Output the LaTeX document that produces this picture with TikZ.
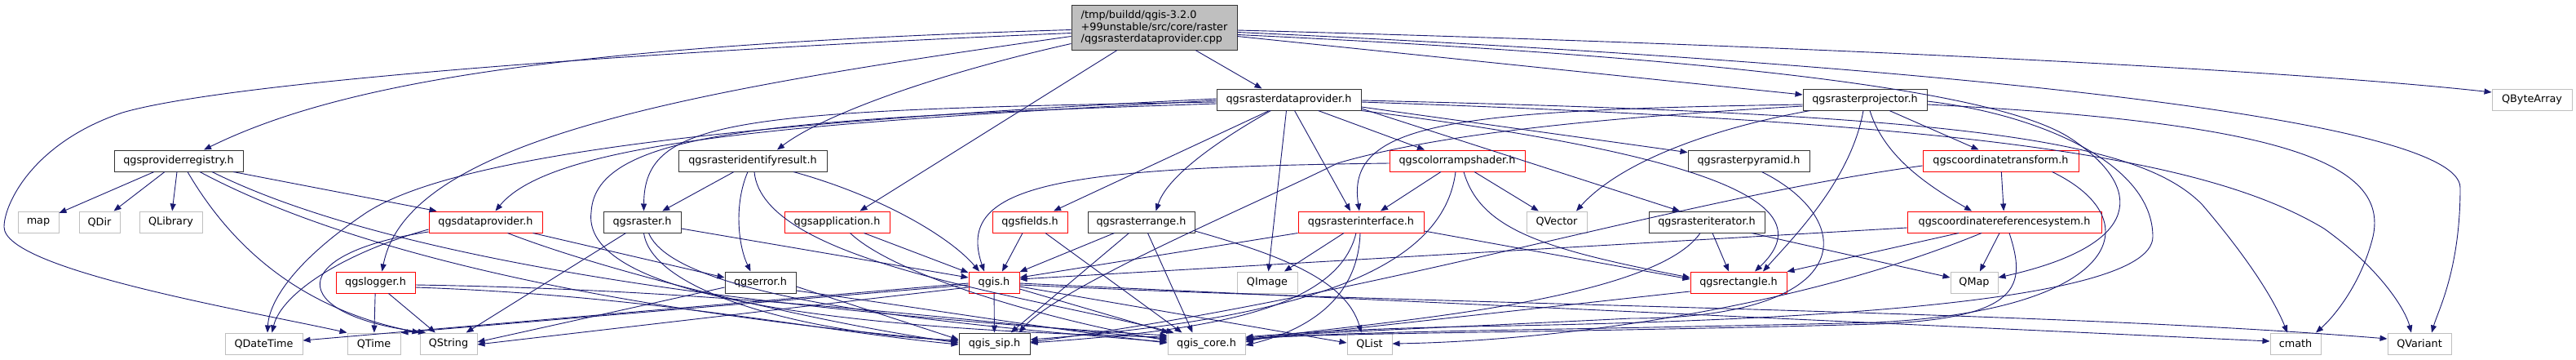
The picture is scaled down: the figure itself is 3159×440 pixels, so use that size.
\documentclass[tikz,border=0pt]{standalone}
\usepackage{fontspec}
\setmainfont{DejaVu Sans}
\usetikzlibrary{arrows.meta}
\definecolor{edgec}{HTML}{191970}
\definecolor{lgray}{HTML}{BFBFBF}
\definecolor{mainfill}{HTML}{BFBFBF}
\tikzset{
  box/.style={draw, line width=1pt, minimum height=26pt, inner sep=0pt, fill=white, text=black,
    font=\fontsize{12.8}{14.5}\selectfont},
  blk/.style={box, draw=black!80},
  redb/.style={box, draw=red},
  gryb/.style={box, draw=lgray},
  edg/.style={draw=edgec, line width=0.9pt, -{Triangle[length=9pt,width=7pt]}},
}
\begin{document}
\begin{tikzpicture}[x=1pt,y=-1pt]
\fill[white] (0,0) rectangle (3159,440);
\useasboundingbox (0,0) rectangle (3159,440);
% row 0
\node[blk, minimum width=203pt, minimum height=55pt, fill=mainfill, align=left] (main) at (1415.5,33.5)
  {/tmp/buildd/qgis-3.2.0\\+99unstable/src/core/raster\\/qgsrasterdataprovider.cpp};
% row 1
\node[blk, minimum width=177pt] (rdp) at (1580.5,122) {qgsrasterdataprovider.h};
\node[blk, minimum width=152pt] (rproj) at (2287,122) {qgsrasterprojector.h};
\node[gryb, minimum width=98pt] (QByteArray) at (3105,122) {QByteArray};
% row 2
\node[blk, minimum width=158pt] (preg) at (219,197) {qgsproviderregistry.h};
\node[blk, minimum width=182pt] (rident) at (923,197) {qgsrasteridentifyresult.h};
\node[redb, minimum width=166pt] (crshader) at (1787,197) {qgscolorrampshader.h};
\node[blk, minimum width=149pt] (rpyramid) at (2144.5,197) {qgsrasterpyramid.h};
\node[redb, minimum width=191pt] (ct) at (2453.5,197) {qgscoordinatetransform.h};
% row 3
\node[gryb, minimum width=50pt] (map) at (47,272) {map};
\node[gryb, minimum width=50pt] (QDir) at (122,272) {QDir};
\node[gryb, minimum width=77pt] (QLibrary) at (209.5,272) {QLibrary};
\node[redb, minimum width=139pt] (dprov) at (595.5,272) {qgsdataprovider.h};
\node[blk, minimum width=95pt] (raster) at (787.5,272) {qgsraster.h};
\node[redb, minimum width=129pt] (app) at (1026.5,272) {qgsapplication.h};
\node[redb, minimum width=92pt] (fields) at (1263,272) {qgsfields.h};
\node[blk, minimum width=131pt] (rrange) at (1399.5,272) {qgsrasterrange.h};
\node[redb, minimum width=154pt] (rinterface) at (1669,272) {qgsrasterinterface.h};
\node[gryb, minimum width=74pt] (QVector) at (1909,272) {QVector};
\node[blk, minimum width=142pt] (riter) at (2093,272) {qgsrasteriterator.h};
\node[redb, minimum width=238pt] (crs) at (2458,272) {qgscoordinatereferencesystem.h};
% row 4
\node[redb, minimum width=97pt] (logger) at (460.5,346) {qgslogger.h};
\node[blk, minimum width=87pt] (error) at (932.5,346) {qgserror.h};
\node[redb, minimum width=62pt] (qgis) at (1219,346) {qgis.h};
\node[gryb, minimum width=74pt] (QImage) at (1554,346) {QImage};
\node[redb, minimum width=118pt] (rect) at (2132,346) {qgsrectangle.h};
\node[gryb, minimum width=58pt] (QMap) at (2421,346) {QMap};
% row 5
\node[gryb, minimum width=95pt] (QDateTime) at (323.5,421) {QDateTime};
\node[gryb, minimum width=65pt] (QTime) at (458.5,421) {QTime};
\node[gryb, minimum width=70pt] (QString) at (550,421) {QString};
\node[blk, minimum width=87pt] (sip) at (1219.5,421) {qgis\_sip.h};
\node[gryb, minimum width=95pt] (core) at (1479.5,421) {qgis\_core.h};
\node[gryb, minimum width=55pt] (QList) at (1679.5,421) {QList};
\node[gryb, minimum width=62pt] (cmath) at (2815,421) {cmath};
\node[gryb, minimum width=78pt] (QVariant) at (2967,421) {QVariant};

% ---- main
\draw[edg] ([yshift=-3pt]main.west) .. controls (700,55) and (420,100) .. ([xshift=31pt]preg.north);
\draw[edg] ([yshift=-7pt]main.west) .. controls (800,62) and (280,100) .. (150,138) .. controls (40,175) and (5,250) .. (5,278) .. controls (5,330) and (300,380) .. (QTime.north west);
\draw[edg] ([yshift=-11pt]main.west) .. controls (850,110) and (500,170) .. ([xshift=8pt]logger.north);
\draw[edg] ([yshift=-20pt]main.west) .. controls (1150,90) and (1010,140) .. ([xshift=30pt]rident.north);
\draw[edg] ([xshift=-45.5pt]main.south) -- ([xshift=28pt]app.north);
\draw[edg] ([xshift=50.5pt]main.south) -- ([xshift=-33pt]rdp.north);
\draw[edg] ([yshift=-11pt]main.east) -- ([yshift=6pt]rproj.west);
\draw[edg] ([yshift=-3.5pt]main.east) .. controls (2200,55) and (2800,85) .. ([yshift=9pt]QByteArray.west);
\draw[edg] ([yshift=-6pt]main.east) .. controls (2300,75) and (3017,140) .. (3017,230) .. controls (3017,330) and (2990,380) .. ([xshift=15pt]QVariant.north);
\draw[edg] ([yshift=-9pt]main.east) .. controls (2100,70) and (2450,110) .. (2540,170) .. controls (2630,230) and (2630,300) .. ([yshift=6pt]QMap.east);
% ---- qgsproviderregistry.h
\draw[edg] ([xshift=-30pt]preg.south) -- (map);
\draw[edg] ([xshift=-17pt]preg.south) -- (QDir);
\draw[edg] ([xshift=-2pt]preg.south) -- (QLibrary);
\draw[edg] ([xshift=11pt]preg.south) .. controls (300,330) and (400,385) .. (QString.north west);
\draw[edg] ([xshift=26pt]preg.south) .. controls (450,320) and (800,385) .. ([yshift=3pt]sip.west);
\draw[edg] ([xshift=41pt]preg.south) .. controls (500,330) and (1000,385) .. ([yshift=10pt]core.west);
\draw[edg] ([xshift=67pt]preg.south) -- ([xshift=-60pt]dprov.north);
% ---- qgsdataprovider.h
\draw[edg] ([yshift=-9pt]dprov.west) .. controls (420,310) and (345,360) .. ([xshift=10pt]QDateTime.north);
\draw[edg] ([yshift=-12pt]dprov.west) .. controls (350,310) and (350,385) .. ([xshift=-28pt]QString.north);
\draw[edg] ([xshift=58pt]dprov.south) -- ([yshift=6pt]error.west);
\draw[edg] ([xshift=27pt]dprov.south) .. controls (750,335) and (1000,395) .. ([yshift=1pt]sip.west);
% ---- qgslogger.h
\draw[edg] (logger) -- (QTime);
\draw[edg] ([xshift=16pt]logger.south) -- (QString);
\draw[edg] ([yshift=-6pt]logger.east) .. controls (800,362) and (1000,405) .. ([yshift=-1pt]sip.west);
\draw[edg] ([yshift=-3pt]logger.east) .. controls (900,355) and (1200,395) .. ([yshift=6pt]core.west);
% ---- qgsrasteridentifyresult.h
\draw[edg] ([xshift=-23pt]rident.south) -- (raster);
\draw[edg] ([xshift=-6pt]rident.south) .. controls (900,250) and (905,300) .. ([xshift=-12pt]error.north);
\draw[edg] ([xshift=50pt]rident.south) .. controls (1080,240) and (1165,290) .. ([xshift=-18pt]qgis.north);
\draw[edg] ([xshift=2pt]rident.south) .. controls (935,320) and (1250,360) .. ([xshift=-40pt]core.north);
% ---- qgsraster.h
\draw[edg] ([xshift=-20pt]raster.south) -- (QString);
\draw[edg] ([yshift=-8pt]raster.east) -- ([yshift=6pt]qgis.west);
\draw[edg] ([xshift=2pt]raster.south) .. controls (800,360) and (1000,410) .. ([yshift=4pt]sip.west);
\draw[edg] ([xshift=8pt]raster.south) .. controls (830,370) and (1200,400) .. ([yshift=2pt]core.west);
% ---- qgsapplication.h
\draw[edg] ([xshift=33pt]app.south) -- (qgis);
\draw[edg] ([xshift=16pt]app.south) .. controls (1100,340) and (1300,395) .. ([yshift=4pt]core.west);
% ---- qgserror.h
\draw[edg] ([yshift=-6pt]error.west) -- ([yshift=2pt]QString.east);
\draw[edg] ([yshift=-5pt]error.east) -- ([yshift=5pt]sip.west);
\draw[edg] ([yshift=-10pt]error.east) .. controls (1150,380) and (1300,405) .. ([yshift=1pt]core.west);
% ---- qgis.h
\draw[edg] (qgis) -- (sip);
\draw[edg] ([yshift=-8pt]qgis.east) -- (core);
\draw[edg] ([yshift=-1pt]qgis.west) -- ([yshift=4pt]QDateTime.east);
\draw[edg] ([yshift=-3pt]qgis.west) -- (QTime.north east);
\draw[edg] ([yshift=-6pt]qgis.west) -- ([yshift=-1pt]QString.east);
\draw[edg] ([yshift=-1pt]qgis.east) -- ([yshift=3pt]cmath.west);
\draw[edg] ([yshift=-3pt]qgis.east) .. controls (1800,375) and (2500,380) .. ([yshift=6pt]QVariant.west);
\draw[edg] ([yshift=-5pt]qgis.east) -- ([yshift=1pt]QList.west);
% ---- qgsrasterdataprovider.h
\draw[edg] ([yshift=1pt]rdp.west) .. controls (900,150) and (560,190) .. (450,260) .. controls (360,320) and (330,370) .. ([xshift=4.5pt]QDateTime.north);
\draw[edg] ([yshift=-1pt]rdp.west) .. controls (1000,150) and (680,170) .. ([xshift=12pt]dprov.north);
\draw[edg] ([yshift=-3pt]rdp.west) .. controls (900,135) and (790,145) .. ([xshift=2pt]raster.north);
\draw[edg] ([yshift=-5pt]rdp.west) .. controls (950,145) and (730,160) .. (725,260) .. controls (715,340) and (900,400) .. ([yshift=8pt]core.west);
\draw[edg] ([xshift=-24pt]rdp.south) -- (fields);
\draw[edg] ([xshift=-22pt]rdp.south) .. controls (1480,180) and (1430,220) .. ([xshift=18pt]rrange.north);
\draw[edg] ([xshift=-3pt]rdp.south) -- (QImage);
\draw[edg] ([xshift=7pt]rdp.south) -- ([xshift=-13pt]rinterface.north);
\draw[edg] ([xshift=36pt]rdp.south) -- ([xshift=-40pt]crshader.north);
\draw[edg] ([yshift=-9pt]rdp.east) -- (rpyramid);
\draw[edg] ([yshift=-11pt]rdp.east) -- ([xshift=-33pt]riter.north);
\draw[edg] (rdp.south east) .. controls (2100,190) and (2240,250) .. ([xshift=20pt]rect.north);
\draw[edg] ([yshift=-1pt]rdp.east) .. controls (2400,140) and (2620,170) .. (2700,250) .. controls (2760,320) and (2790,370) .. ([xshift=-10pt]cmath.north);
\draw[edg] ([yshift=-3pt]rdp.east) .. controls (2400,150) and (2700,190) .. (2850,280) .. controls (2920,330) and (2950,380) .. ([xshift=-10pt]QVariant.north);
% ---- qgsrasterprojector.h
\draw[edg] ([yshift=-6pt]rproj.west) .. controls (1780,135) and (1650,150) .. ([xshift=-2pt]rinterface.north);
\draw[edg] ([xshift=-67pt]rproj.south) .. controls (2110,155) and (1990,195) .. ([xshift=24pt]QVector.north);
\draw[edg] ([xshift=-2pt]rproj.south) .. controls (2270,220) and (2200,290) .. ([xshift=30pt]rect.north);
\draw[edg] ([xshift=6pt]rproj.south) .. controls (2310,190) and (2360,225) .. ([xshift=-40pt]crs.north);
\draw[edg] ([xshift=30pt]rproj.south) -- ([xshift=-27pt]ct.north);
\draw[edg] ([yshift=-6pt]rproj.east) .. controls (2800,150) and (2930,200) .. (2910,290) .. controls (2895,350) and (2860,390) .. ([xshift=25pt]cmath.north);
\draw[edg] ([yshift=-2pt]rproj.east) .. controls (2500,140) and (2640,200) .. (2640,290) .. controls (2640,380) and (2100,395) .. (1800,400) .. controls (1650,403) and (1560,410) .. ([yshift=8pt]core.east);
\draw[edg] ([yshift=-8pt]rproj.west) .. controls (1950,145) and (1760,165) .. (1640,200) .. controls (1540,250) and (1300,350) .. ([xshift=30pt]sip.north);
% ---- qgscoordinatetransform.h
\draw[edg] (ct) -- (crs);
\draw[edg] ([yshift=-6pt]ct.west) .. controls (2050,245) and (1700,360) .. ([yshift=2pt]sip.east);
\draw[edg] ([xshift=63pt]ct.south) .. controls (2640,270) and (2600,380) .. (2300,395) .. controls (1900,405) and (1650,405) .. ([yshift=5pt]core.east);
% ---- qgscoordinatereferencesystem.h
\draw[edg] ([yshift=-7pt]crs.west) -- ([yshift=4pt]qgis.east);
\draw[edg] ([xshift=-56pt]crs.south) -- (rect);
\draw[edg] ([xshift=-6pt]crs.south) -- (QMap);
\draw[edg] ([xshift=-28pt]crs.south) .. controls (2200,380) and (1900,418) .. (QList.east);
\draw[edg] ([xshift=6pt]crs.south) .. controls (2485,350) and (2480,390) .. (2300,397) .. controls (1900,408) and (1650,407) .. ([yshift=6pt]core.east);
% ---- qgsrectangle.h
\draw[edg] ([yshift=-11pt]rect.west) -- ([yshift=4pt]core.east);
% ---- qgsrasteriterator.h
\draw[edg] ([xshift=7pt]riter.south) -- ([xshift=-12pt]rect.north);
\draw[edg] ([xshift=55pt]riter.south) -- ([yshift=6pt]QMap.west);
\draw[edg] ([xshift=-8pt]riter.south) .. controls (2020,380) and (1600,400) .. ([yshift=2pt]core.east);
% ---- qgsrasterpyramid.h
\draw[edg] ([xshift=16pt]rpyramid.south) .. controls (2280,270) and (2280,390) .. (2000,390) .. controls (1800,400) and (1600,408) .. ([yshift=7pt]core.east);
% ---- qgscolorrampshader.h
\draw[edg] ([xshift=-20pt]crshader.south) -- ([xshift=24pt]rinterface.north);
\draw[edg] ([xshift=21pt]crshader.south) -- (QVector);
\draw[edg] ([xshift=8pt]crshader.south) .. controls (1815,280) and (1890,305) .. ([yshift=6pt]rect.west);
\draw[edg] ([yshift=-3pt]crshader.west) .. controls (1300,205) and (1170,225) .. ([xshift=-12pt]qgis.north);
\draw[edg] ([xshift=-2pt]crshader.south) .. controls (1770,330) and (1600,390) .. ([yshift=5pt]sip.east);
% ---- qgsrasterinterface.h
\draw[edg] ([xshift=-21pt]rinterface.south) -- (QImage);
\draw[edg] (rinterface.south west) -- ([yshift=6pt]qgis.east);
\draw[edg] ([xshift=-6pt]rinterface.south) .. controls (1640,380) and (1480,405) .. ([yshift=1pt]sip.east);
\draw[edg] ([xshift=-1pt]rinterface.south) .. controls (1665,380) and (1580,410) .. ([yshift=-2pt]core.east);
\draw[edg] ([yshift=-11pt]rinterface.east) -- ([yshift=4pt]rect.west);
% ---- qgsrasterrange.h
\draw[edg] ([xshift=-33pt]rrange.south) -- (qgis);
\draw[edg] ([xshift=-15pt]rrange.south) -- ([xshift=20pt]sip.north);
\draw[edg] ([xshift=8pt]rrange.south) -- ([xshift=-17pt]core.north);
\draw[edg] ([yshift=-11pt]rrange.east) .. controls (1560,310) and (1650,340) .. ([xshift=-10pt]QList.north);
% ---- qgsfields.h
\draw[edg] ([xshift=-9pt]fields.south) -- ([xshift=10pt]qgis.north);
\draw[edg] ([xshift=19pt]fields.south) -- ([xshift=-30pt]core.north);
\end{tikzpicture}
\end{document}
